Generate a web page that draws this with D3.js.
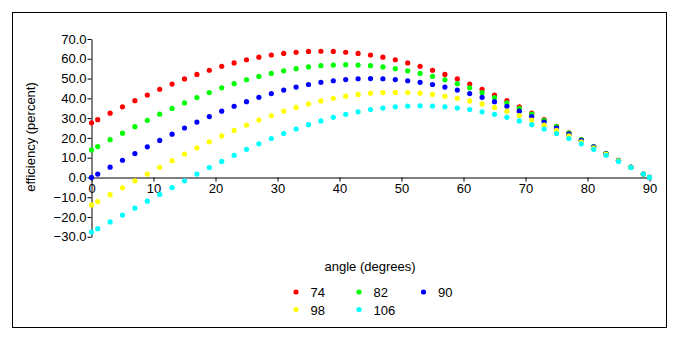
<!DOCTYPE html>
<html><head><meta charset="utf-8">
<script src="https://cdn.jsdelivr.net/npm/d3@7"></script>
<style>
body{margin:0;background:#fff;}
svg text{font-family:"Liberation Sans",Arial,sans-serif;font-size:13px;fill:#000;}
</style></head>
<body><svg id="c" width="679" height="341"></svg>
<script>
const angles = [0,1,3,5,7,9,11,13,15,17,19,21,23,25,27,29,31,33,35,37,39,41,43,45,47,49,51,53,55,57,59,61,63,65,67,69,71,73,75,77,79,81,83,85,87,89,90];
const seriesNames = ["74","82","90","98","106"];
const seriesColors = ["#ff0000","#00ff00","#0000ff","#ffff00","#00ffff"];
const s74 = [27.6,29.2,32.5,35.7,38.8,41.7,44.6,47.2,49.8,52.1,54.2,56.2,57.9,59.5,60.8,61.9,62.7,63.3,63.7,63.8,63.7,63.3,62.7,61.9,60.8,59.5,57.9,56.2,54.2,52.1,49.8,47.2,44.6,41.7,38.8,35.7,32.5,29.2,25.9,22.5,19.0,15.5,12.0,8.6,5.1,1.7,0.0];
const s82 = [13.9,15.6,19.1,22.4,25.7,28.9,32.0,34.9,37.7,40.4,42.9,45.3,47.4,49.4,51.1,52.6,53.9,55.0,55.9,56.5,56.8,57.0,56.8,56.5,55.9,55.0,53.9,52.6,51.1,49.4,47.4,45.3,42.9,40.4,37.7,34.9,32.0,28.9,25.7,22.4,19.1,15.6,12.2,8.7,5.2,1.7,0.0];
const s90 = [0.0,1.7,5.2,8.7,12.1,15.5,18.7,21.9,25.0,28.0,30.8,33.5,36.0,38.3,40.5,42.4,44.2,45.7,47.0,48.1,48.9,49.5,49.9,50.0,49.9,49.5,48.9,48.1,47.0,45.7,44.2,42.4,40.5,38.3,36.0,33.5,30.8,28.0,25.0,21.9,18.7,15.5,12.1,8.7,5.2,1.7,0.0];
const s98 = [-13.9,-12.2,-8.7,-5.2,-1.7,1.7,5.1,8.5,11.8,15.0,18.0,21.0,23.8,26.5,29.0,31.3,33.5,35.4,37.2,38.7,40.0,41.1,42.0,42.6,42.9,43.0,42.9,42.6,42.0,41.1,40.0,38.7,37.2,35.4,33.5,31.3,29.0,26.5,23.8,21.0,18.0,15.0,11.8,8.5,5.1,1.7,0.0];
const s106 = [-27.6,-25.9,-22.5,-19.0,-15.5,-12.0,-8.6,-5.1,-1.7,1.7,5.0,8.1,11.2,14.2,17.0,19.7,22.2,24.5,26.7,28.6,30.4,31.9,33.2,34.3,35.1,35.7,36.1,36.2,36.1,35.7,35.1,34.3,33.2,31.9,30.4,28.6,26.7,24.5,22.2,19.7,17.0,14.2,11.2,8.1,5.0,1.7,0.0];
const xTicks = [0,10,20,30,40,50,60,70,80,90];
const yTicks = [-30,-20,-10,0,10,20,30,40,50,60,70];
const allSeries = [s74,s82,s90,s98,s106];

const svg = d3.select("#c");
svg.append("rect").attr("x",12.5).attr("y",12.5).attr("width",654).attr("height",315)
  .attr("fill","none").attr("stroke","#000").attr("stroke-width",1);

const x = d3.scaleLinear().domain([0,90]).range([91.5,649.5]);
const y = d3.scaleLinear().domain([-30,70]).range([236.8,39]);

const yAxis = d3.axisLeft(y).tickValues(yTicks).tickFormat(d3.format(".1f")).tickSize(4).tickSizeOuter(0).tickPadding(1);
const gy = svg.append("g").attr("transform","translate(91.5,0)").call(yAxis);
const xAxis = d3.axisBottom(x).tickValues(xTicks).tickFormat(d3.format("d")).tickSize(4).tickSizeOuter(0).tickPadding(2);
const gx = svg.append("g").attr("transform",`translate(0,${Math.round(y(0))+0.5})`).call(xAxis);
[gx,gy].forEach(g=>{
  g.selectAll("path,line").attr("stroke","#000").attr("stroke-width",1);
  g.selectAll("text").attr("font-family","Liberation Sans, Arial, sans-serif").attr("font-size",13).attr("fill","#000");
});

allSeries.forEach((vals,i)=>{
  svg.append("g").selectAll("circle").data(vals).join("circle")
    .attr("cx",(d,j)=>x(angles[j])).attr("cy",d=>y(d)).attr("r",2.6)
    .attr("fill",seriesColors[i]);
});

svg.append("text").attr("transform","translate(35,137) rotate(-90)").attr("text-anchor","middle").text("efficiency (percent)");
svg.append("text").attr("x",370).attr("y",271).attr("text-anchor","middle").text("angle (degrees)");

const legX = [296,359,423.5], legY = [292,309.5];
seriesNames.forEach((n,i)=>{
  const col = i%3, row = Math.floor(i/3);
  svg.append("circle").attr("cx",legX[col]).attr("cy",legY[row]).attr("r",2.6).attr("fill",seriesColors[i]);
  svg.append("text").attr("x",legX[col]+14.5).attr("y",legY[row]+5).text(n);
});
</script></body></html>
